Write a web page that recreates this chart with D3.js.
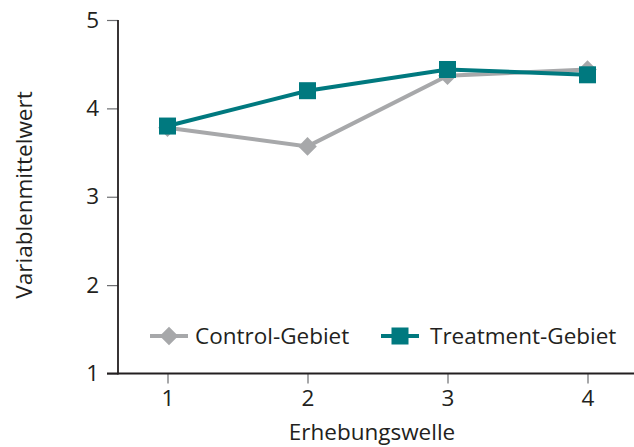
<!DOCTYPE html>
<html><head><meta charset="utf-8">
<script src="https://cdn.jsdelivr.net/npm/d3@7"></script>
<style>body{margin:0;background:#fff}svg{display:block}text{font-family:"Open Sans","Noto Sans",sans-serif;fill:#231f20}</style>
</head><body><svg id="c" width="634" height="447"></svg>
<script>
const waves = [1, 2, 3, 4];
const controlValues = [3.78, 3.57, 4.37, 4.44];
const treatmentValues = [3.80, 4.20, 4.44, 4.38];
const yTicks = [1, 2, 3, 4, 5];
const seriesNames = ["Control-Gebiet", "Treatment-Gebiet"];
const xTitle = "Erhebungswelle";
const yTitle = "Variablenmittelwert";

const FS = "22.5px";
const svg = d3.select("#c");
const x = d3.scaleLinear().domain([1, 4]).range([167.5, 587.5]);
const y = d3.scaleLinear().domain([1, 5]).range([373.5, 20]);
const gray = "#a7a8aa", teal = "#00797f";

// y axis
const ya = svg.append("g").attr("transform", "translate(118,0)")
  .call(d3.axisLeft(y).tickValues(yTicks).tickFormat(d3.format("d")).tickSize(11).tickSizeOuter(0).tickPadding(8));
ya.select(".domain").remove();
ya.attr("font-size", null).attr("font-family", null);
ya.selectAll(".tick line").attr("stroke", "#6d6e71").attr("stroke-width", 1.2);
ya.selectAll(".tick text").style("font-size", FS).attr("fill", "#231f20");
svg.append("line").attr("x1", 118).attr("x2", 118).attr("y1", y(5)).attr("y2", y(1) + 1)
  .attr("stroke", "#231f20").attr("stroke-width", 1.8);

// x axis
const xa = svg.append("g").attr("transform", "translate(0,373.5)")
  .call(d3.axisBottom(x).tickValues(waves).tickFormat(d3.format("d")).tickSize(10).tickSizeOuter(0).tickPadding(7));
xa.select(".domain").remove();
xa.attr("font-size", null).attr("font-family", null);
xa.selectAll(".tick line").attr("stroke", "#6d6e71").attr("stroke-width", 1.2);
xa.selectAll(".tick text").style("font-size", FS).attr("fill", "#231f20");
svg.append("line").attr("x1", 107).attr("x2", 634).attr("y1", 373.5).attr("y2", 373.5)
  .attr("stroke", "#231f20").attr("stroke-width", 1.8);

// titles
svg.append("text").attr("x", 372).attr("y", 440).attr("text-anchor", "middle")
  .style("font-size", FS).text(xTitle);
svg.append("text").attr("transform", "translate(32,195) rotate(-90)").attr("text-anchor", "middle")
  .style("font-size", FS).text(yTitle);

const line = d3.line().x((d, i) => x(waves[i])).y(d => y(d));
const diamond = d3.symbol().type(d3.symbolDiamond2).size(220);

// control
svg.append("path").datum(controlValues).attr("d", line).attr("fill", "none")
  .attr("stroke", gray).attr("stroke-width", 4);
svg.selectAll(".cm").data(controlValues).join("path").attr("class", "cm")
  .attr("d", diamond).attr("fill", gray)
  .attr("transform", (d, i) => `translate(${x(waves[i])},${y(d)})`);

// treatment
svg.append("path").datum(treatmentValues).attr("d", line).attr("fill", "none")
  .attr("stroke", teal).attr("stroke-width", 4);
svg.selectAll(".tm").data(treatmentValues).join("rect").attr("class", "tm")
  .attr("x", (d, i) => x(waves[i]) - 8.5).attr("y", d => y(d) - 8.5)
  .attr("width", 17).attr("height", 17).attr("fill", teal);

// legend
const leg = [
  {name: seriesNames[0], color: gray, x0: 150, tx: 195, type: "d"},
  {name: seriesNames[1], color: teal, x0: 381, tx: 430, type: "s"}
];
leg.forEach(l => {
  const g = svg.append("g").attr("transform", `translate(${l.x0},336)`);
  g.append("line").attr("x1", 0).attr("x2", 38).attr("stroke", l.color).attr("stroke-width", 4);
  if (l.type === "d") g.append("path").attr("d", diamond).attr("fill", l.color).attr("transform", "translate(19,0)");
  else g.append("rect").attr("x", 10.5).attr("y", -8.5).attr("width", 17).attr("height", 17).attr("fill", l.color);
  g.append("text").attr("x", l.tx - l.x0).attr("y", 8).style("font-size", FS).text(l.name);
});
</script></body></html>
